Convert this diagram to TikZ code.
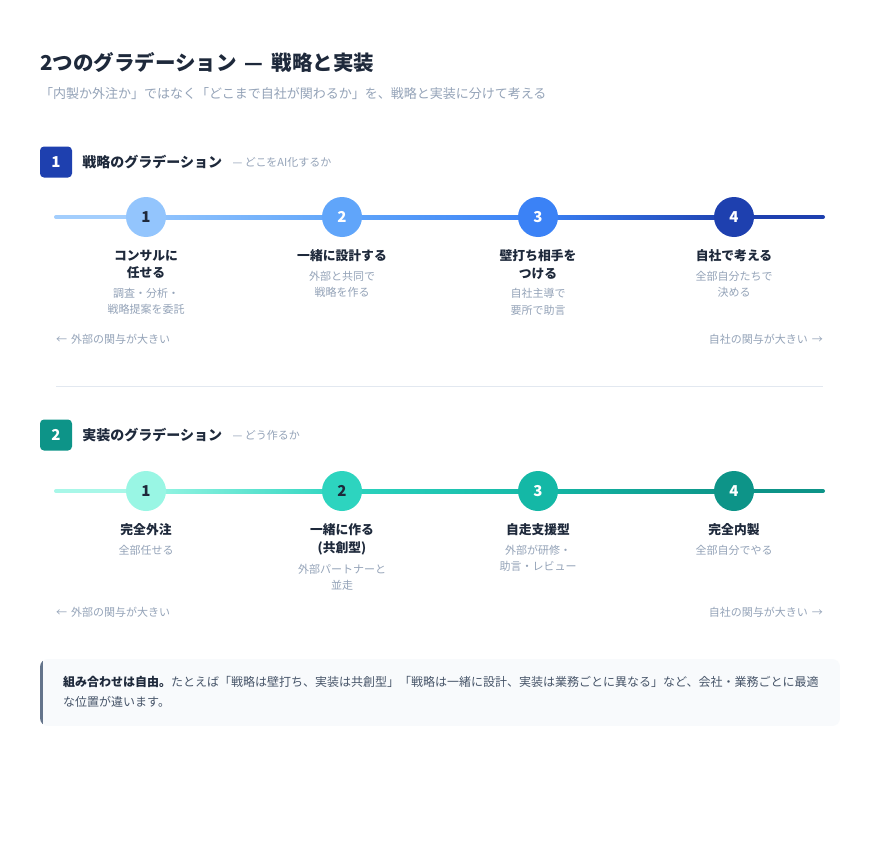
\documentclass[tikz,border=0pt]{standalone}
\usepackage{fontspec}
\setmainfont{Noto Sans CJK JP}
\usetikzlibrary{positioning}

\definecolor{ink}{HTML}{1E293B}
\definecolor{mute}{HTML}{94A3B8}
\definecolor{rulegray}{HTML}{E2E8F0}
\definecolor{notebg}{HTML}{F8FAFC}
\definecolor{notebar}{HTML}{64748B}
\definecolor{notetext}{HTML}{475569}
% blues (strategy)
\definecolor{bA}{HTML}{93C5FD}
\definecolor{bB}{HTML}{60A5FA}
\definecolor{bC}{HTML}{3B82F6}
\definecolor{bD}{HTML}{1E40AF}
% teals (implementation)
\definecolor{tA}{HTML}{99F6E4}
\definecolor{tB}{HTML}{2DD4BF}
\definecolor{tC}{HTML}{14B8A6}
\definecolor{tD}{HTML}{0D9488}

\begin{document}
\begin{tikzpicture}[x=1pt, y=-1pt,
    dot/.style={circle, minimum size=40pt, inner sep=0pt, font=\fontsize{15}{15}\selectfont\bfseries},
    ttl/.style={align=center, inner sep=0pt, text=ink, font=\fontsize{12.8}{17.5}\selectfont\bfseries},
    dsc/.style={align=center, inner sep=0pt, text=mute, font=\fontsize{11}{16.5}\selectfont},
    badge/.style={rounded corners=4pt, minimum width=32pt, minimum height=31pt, inner sep=0pt, text=white, font=\fontsize{15}{15}\selectfont\bfseries},
    sec/.style={inner sep=0pt, text=ink, font=\fontsize{14}{14}\selectfont\bfseries},
    secsub/.style={inner sep=0pt, text=mute, font=\fontsize{11}{11}\selectfont},
    arr/.style={inner sep=0pt, text=mute, font=\fontsize{11}{11}\selectfont},
    track/.style={line width=4pt, line cap=round}]

    \fill[white] (0,0) rectangle (880,840);
    \useasboundingbox (0,0) rectangle (880,840);

    % Heading
    \node[anchor=west, inner sep=0pt, text=ink, font=\fontsize{20.5}{20.5}\selectfont\bfseries] (title) at (40,63) {2つのグラデーション\hspace{0.4em}—\hspace{0.4em}戦略と実装};
    \node[anchor=west, inner sep=0pt, text=mute, font=\fontsize{13}{13}\selectfont] (lead) at (40,94) {「内製か外注か」ではなく「どこまで自社が関わるか」を、戦略と実装に分けて考える};

    % Section 1 (strategy)
    \node[badge, fill=bD] (sb) at (56,162) {1};
    \node[sec, right=10pt of sb] (sh) {戦略のグラデーション};
    \node[secsub, right=10pt of sh] (shs) {— どこをAI化するか};

    \coordinate (s0) at (56,217);
    \coordinate (s1) at (146,217);
    \coordinate (s2) at (342,217);
    \coordinate (s3) at (538,217);
    \coordinate (s4) at (734,217);
    \coordinate (s5) at (823,217);

    % Track
    \draw[track, bA!85!white] (s0) -- (s1);
    \shade[left color=bA, right color=bB] ([yshift=-2pt]s1) rectangle ([yshift=2pt]s2);
    \shade[left color=bB, right color=bC] ([yshift=-2pt]s2) rectangle ([yshift=2pt]s3);
    \shade[left color=bC, right color=bD] ([yshift=-2pt]s3) rectangle ([yshift=2pt]s4);
    \draw[track, bD] (s4) -- (s5);

    % Steps
    \node[dot, fill=bA, text=ink] (sd1) at (s1) {1};
    \node[dot, fill=bB, text=white] (sd2) at (s2) {2};
    \node[dot, fill=bC, text=white] (sd3) at (s3) {3};
    \node[dot, fill=bD, text=white] (sd4) at (s4) {4};

    \node[ttl, below=12.5pt of sd1] (st1) {コンサルに\\任せる};
    \node[ttl, below=12.5pt of sd2] (st2) {一緒に設計する};
    \node[ttl, below=12.5pt of sd3] (st3) {壁打ち相手を\\つける};
    \node[ttl, below=12.5pt of sd4] (st4) {自社で考える};

    \node[dsc, below=8.5pt of st1] (sx1) {調査・分析・\\戦略提案を委託};
    \node[dsc, below=8.5pt of st2] (sx2) {外部と共同で\\戦略を作る};
    \node[dsc, below=8.5pt of st3] (sx3) {自社主導で\\要所で助言};
    \node[dsc, below=8.5pt of st4] (sx4) {全部自分たちで\\決める};

    \node[arr, anchor=west] (sl) at (56,339) {←\hspace{4pt}外部の関与が大きい};
    \node[arr, anchor=east] (sr) at (823,339) {自社の関与が大きい\hspace{4pt}→};

    % Divider
    \coordinate (dv0) at (56,386);
    \coordinate (dv1) at (823,386);
    \draw[rulegray, line width=1pt] (dv0) -- (dv1);

    % Section 2 (implementation)
    \node[badge, fill=tD] (jb) at (56,435) {2};
    \node[sec, right=10pt of jb] (jh) {実装のグラデーション};
    \node[secsub, right=10pt of jh] (jhs) {— どう作るか};

    \coordinate (j0) at (56,491);
    \coordinate (j1) at (146,491);
    \coordinate (j2) at (342,491);
    \coordinate (j3) at (538,491);
    \coordinate (j4) at (734,491);
    \coordinate (j5) at (823,491);

    % Track
    \draw[track, tA!85!white] (j0) -- (j1);
    \shade[left color=tA, right color=tB] ([yshift=-2pt]j1) rectangle ([yshift=2pt]j2);
    \shade[left color=tB, right color=tC] ([yshift=-2pt]j2) rectangle ([yshift=2pt]j3);
    \shade[left color=tC, right color=tD] ([yshift=-2pt]j3) rectangle ([yshift=2pt]j4);
    \draw[track, tD] (j4) -- (j5);

    % Steps
    \node[dot, fill=tA, text=ink] (jd1) at (j1) {1};
    \node[dot, fill=tB, text=ink] (jd2) at (j2) {2};
    \node[dot, fill=tC, text=white] (jd3) at (j3) {3};
    \node[dot, fill=tD, text=white] (jd4) at (j4) {4};

    \node[ttl, below=12.5pt of jd1] (jt1) {完全外注};
    \node[ttl, below=12.5pt of jd2] (jt2) {一緒に作る\\(共創型)};
    \node[ttl, below=12.5pt of jd3] (jt3) {自走支援型};
    \node[ttl, below=12.5pt of jd4] (jt4) {完全内製};

    \node[dsc, below=8.5pt of jt1] (jx1) {全部任せる};
    \node[dsc, below=8.5pt of jt2] (jx2) {外部パートナーと\\並走};
    \node[dsc, below=8.5pt of jt3] (jx3) {外部が研修・\\助言・レビュー};
    \node[dsc, below=8.5pt of jt4] (jx4) {全部自分でやる};

    \node[arr, anchor=west] (jl) at (56,612) {←\hspace{4pt}外部の関与が大きい};
    \node[arr, anchor=east] (jr) at (823,612) {自社の関与が大きい\hspace{4pt}→};

    % Note
    \begin{scope}
        \clip[rounded corners=8pt] (40,659) rectangle (840,726);
        \fill[notebg] (40,659) rectangle (840,726);
        \fill[notebar] (40,659) rectangle (43,726);
    \end{scope}
    \node[anchor=north west, align=left, inner sep=0pt, text=notetext, font=\fontsize{12}{20}\selectfont] (memo) at (63,676.5)
        {\textcolor{ink}{\bfseries 組み合わせは自由。}たとえば「戦略は壁打ち、実装は共創型」「戦略は一緒に設計、実装は業務ごとに異なる」など、会社・業務ごとに最適\\な位置が違います。};

\end{tikzpicture}
\end{document}
